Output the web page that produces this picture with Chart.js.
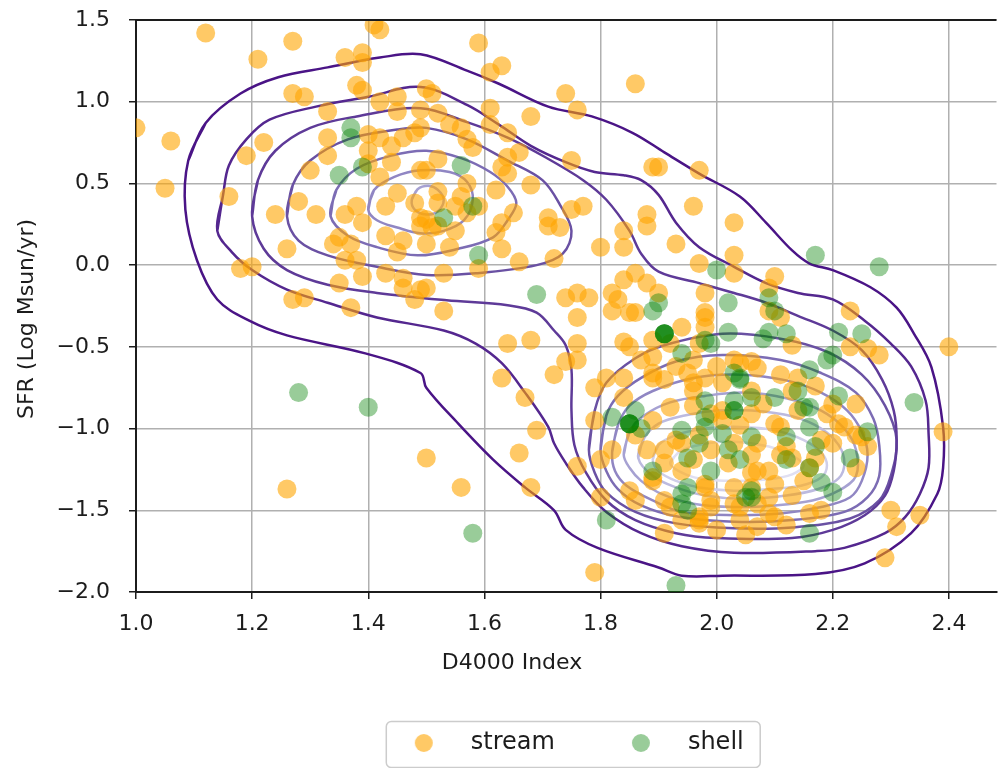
<!DOCTYPE html>
<html>
<head>
<meta charset="utf-8">
<script src="https://cdn.jsdelivr.net/npm/chart.js@4.4.1/dist/chart.umd.min.js"></script>
<style>
html,body{margin:0;padding:0;background:#fff;overflow:hidden}
canvas{display:block}
</style>
</head>
<body>
<canvas id="c" width="1006" height="768"></canvas>
<script>
// ---------------- data ----------------
const xTitle = 'D4000 Index';
const yTitle = 'SFR (Log Msun/yr)';
const xTickValues = [1.0, 1.2, 1.4, 1.6, 1.8, 2.0, 2.2, 2.4];
const yTickValues = [-2.0, -1.5, -1.0, -0.5, 0.0, 0.5, 1.0, 1.5];
const seriesNames = ['stream', 'shell'];

// [D4000, SFR] pairs
const streamPoints = [
[1.12,1.42],[1.27,1.37],[1.41,1.47],[1.42,1.44],[1.21,1.26],[1.36,1.27],[1.39,1.30],[1.39,1.24],[1.38,1.10],[1.39,1.07],
[1.27,1.05],[1.29,1.03],[1.33,0.94],[1.42,1.00],[1.45,1.03],[1.45,0.94],[1.49,0.95],[1.00,0.84],[1.06,0.76],[1.22,0.75],
[1.19,0.67],[1.33,0.67],[1.33,0.78],[1.30,0.58],[1.40,0.80],[1.42,0.78],[1.40,0.70],[1.44,0.73],[1.46,0.78],[1.48,0.81],
[1.49,0.84],[1.44,0.63],[1.40,0.62],[1.42,0.54],[1.49,0.58],[1.05,0.47],[1.16,0.42],[1.28,0.39],[1.31,0.31],[1.24,0.31],
[1.36,0.31],[1.38,0.36],[1.39,0.26],[1.35,0.17],[1.37,0.13],[1.34,0.13],[1.26,0.10],[1.43,0.36],[1.45,0.44],[1.48,0.38],
[1.49,0.29],[1.43,0.18],[1.46,0.15],[1.45,0.08],[1.18,-0.02],[1.20,-0.01],[1.36,0.03],[1.38,0.03],[1.39,-0.07],[1.35,-0.11],
[1.43,-0.05],[1.46,-0.08],[1.46,-0.14],[1.49,-0.15],[1.27,-0.21],[1.29,-0.20],[1.37,-0.26],[1.48,-0.21],[1.59,1.36],[1.63,1.22],
[1.61,1.18],[1.86,1.11],[1.74,1.05],[1.76,0.95],[1.68,0.91],[1.61,0.96],[1.51,1.05],[1.50,1.08],[1.52,0.93],[1.54,0.86],
[1.56,0.84],[1.57,0.77],[1.61,0.86],[1.64,0.81],[1.58,0.72],[1.66,0.69],[1.64,0.66],[1.63,0.60],[1.64,0.56],[1.75,0.64],
[1.89,0.60],[1.90,0.60],[1.97,0.58],[1.52,0.65],[1.50,0.58],[1.57,0.50],[1.62,0.46],[1.68,0.49],[1.52,0.45],[1.56,0.42],
[1.55,0.36],[1.65,0.32],[1.71,0.29],[1.71,0.24],[1.75,0.34],[1.77,0.36],[1.73,0.23],[1.50,0.28],[1.51,0.23],[1.55,0.21],
[1.57,0.32],[1.63,0.26],[1.62,0.20],[1.63,0.10],[1.66,0.02],[1.59,-0.02],[1.53,-0.05],[1.50,-0.14],[1.72,0.04],[1.80,0.11],
[1.84,0.21],[1.84,0.11],[1.88,0.31],[1.88,0.24],[1.93,0.13],[1.96,0.36],[2.03,0.26],[1.97,0.01],[1.98,-0.17],[1.86,-0.05],
[1.84,-0.09],[1.74,-0.20],[1.76,-0.17],[1.78,-0.20],[1.83,-0.21],[2.03,0.06],[2.03,-0.05],[2.10,-0.07],[2.09,-0.14],[2.23,-0.28],
[1.59,0.36],[1.49,0.24],[1.52,0.24],[1.50,0.13],[1.54,0.11],[1.53,-0.28],[1.82,-0.17],[1.85,-0.29],[1.86,-0.29],[1.88,-0.11],
[1.76,-0.32],[1.64,-0.48],[1.68,-0.46],[1.76,-0.48],[1.74,-0.59],[1.76,-0.58],[1.72,-0.67],[1.63,-0.69],[1.67,-0.81],[1.69,-1.01],
[1.79,-0.95],[1.81,-0.69],[1.84,-0.69],[1.85,-0.50],[1.87,-0.58],[1.89,-0.56],[1.84,-0.81],[1.52,0.38],[1.26,-1.37],[1.50,-1.18],
[1.82,-0.28],[1.89,-0.46],[1.79,-0.75],[1.89,-0.66],[1.93,-0.62],[1.96,-0.72],[1.98,-0.69],[2.00,-0.62],[2.01,-0.72],[1.86,-1.04],
[1.82,-1.13],[1.66,-1.15],[1.80,-1.19],[1.76,-1.23],[1.56,-1.36],[1.68,-1.36],[1.80,-1.42],[1.85,-1.38],[1.86,-1.44],[1.89,-1.32],
[1.91,-1.44],[1.92,-1.48],[1.91,-1.64],[1.97,-1.58],[1.79,-1.88],[1.93,-1.07],[1.99,-0.91],[1.98,-1.36],[1.99,-1.44],[2.09,-0.28],
[2.11,-0.32],[1.98,-0.32],[1.98,-0.38],[2.13,-0.49],[2.23,-0.50],[2.26,-0.51],[2.28,-0.55],[2.40,-0.50],[2.04,-0.60],[2.06,-0.59],
[2.07,-0.63],[2.14,-0.69],[2.01,-0.89],[2.24,-0.85],[2.19,-0.91],[2.21,-0.97],[2.12,-1.11],[2.24,-1.04],[2.20,-1.09],[2.26,-1.11],
[2.39,-1.02],[2.24,-1.24],[2.07,-1.26],[2.16,-1.24],[2.10,-1.34],[2.03,-1.36],[1.99,-1.48],[2.04,-1.48],[2.09,-1.42],[2.10,-1.54],
[2.07,-1.60],[2.04,-1.56],[2.16,-1.52],[2.18,-1.50],[2.30,-1.50],[2.31,-1.60],[2.35,-1.53],[2.29,-1.79],[1.97,-1.56],[1.90,-0.17],
[1.94,-0.38],[1.92,-0.48],[1.98,-0.29],[1.84,-0.47],[1.97,-0.48],[1.96,-0.58],[1.89,-0.69],[1.91,-0.70],[1.95,-0.66],[2.03,-0.58],
[1.92,-0.87],[1.96,-0.77],[2.01,-0.95],[2.06,-0.91],[2.08,-0.85],[2.13,-0.77],[2.14,-0.89],[2.20,-0.85],[1.91,-1.13],[1.94,-1.09],
[2.03,-1.09],[2.07,-1.09],[2.10,-0.97],[2.11,-0.99],[2.13,-1.18],[2.17,-1.18],[2.22,-0.99],[2.25,-1.05],[1.91,-1.21],[2.02,-1.21],
[2.06,-1.27],[2.09,-1.26],[1.89,-1.30],[1.98,-1.34],[2.06,-1.36],[2.07,-1.46],[2.03,-1.46],[1.97,-1.54],[2.09,-1.52],[1.96,-1.19],
[1.99,-1.13],[2.06,-1.16],[2.11,-1.16],[1.94,-1.26],[1.97,-1.04],[2.04,-0.98],[2.15,-1.32],[2.13,-1.41],[1.94,-1.56],[2.00,-1.62],
[2.05,-1.65],[2.12,-1.59],[1.88,-1.13],[1.89,-0.95],[1.96,-0.86],[2.06,-0.77],[2.11,-0.67],[2.17,-0.74],[2.18,-1.07]
];

const shellPoints = [
[1.37,0.84],[1.37,0.78],[1.39,0.60],[1.35,0.55],[1.56,0.61],[1.58,0.36],[1.53,0.29],[1.59,0.06],[1.69,-0.18],[1.90,-0.23],
[2.00,-0.03],[2.17,0.06],[2.28,-0.01],[2.02,-0.23],[2.09,-0.20],[1.28,-0.78],[1.40,-0.87],[1.89,-0.28],
[1.91,-0.42],[1.91,-0.42],[1.91,-0.42],[1.91,-0.42],
[1.94,-0.54],[1.98,-0.46],[1.82,-0.93],[1.86,-0.89],
[1.85,-0.97],[1.85,-0.97],[1.85,-0.97],[1.85,-0.97],
[1.87,-1.00],[1.89,-1.26],[1.94,-1.40],[1.95,-1.36],[1.95,-1.50],[1.81,-1.56],[1.58,-1.64],[1.93,-1.96],[1.94,-1.01],[1.98,-0.99],
[1.97,-1.09],[1.99,-1.26],[2.10,-0.28],[2.02,-0.41],[1.99,-0.48],[2.08,-0.45],[2.09,-0.41],[2.12,-0.42],[2.21,-0.41],[2.25,-0.42],
[2.19,-0.58],[2.20,-0.55],[2.03,-0.66],[2.04,-0.69],[2.16,-0.64],[1.98,-0.83],[1.98,-0.93],[2.10,-0.81],[2.14,-0.77],[2.15,-0.87],
[2.16,-0.87],[2.21,-0.80],[2.34,-0.84],[2.12,-1.05],[2.17,-1.11],[2.16,-0.99],[2.26,-1.02],[2.23,-1.18],[2.02,-1.13],[2.04,-1.19],
[2.12,-1.19],[2.06,-1.38],[2.06,-1.42],[2.18,-1.33],[2.20,-1.39],[2.16,-1.64],[2.04,-0.70],[2.03,-0.83],[2.06,-0.81],[2.03,-0.89],
[2.03,-0.89],[2.01,-1.03],[2.06,-1.05],[1.95,-1.18],[2.16,-1.24],[2.05,-1.42],[1.94,-1.46]
];

// KDE contour rings, [D4000, SFR]
const contour1 = [[1.09,0.64],[1.12,0.87],[1.18,1.05],[1.245,1.15],[1.33,1.21],[1.42,1.27],[1.49,1.29],[1.57,1.19],[1.625,1.11],[1.71,0.97],[1.785,0.91],[1.855,0.81],[1.91,0.69],[1.97,0.56],[2.04,0.42],[2.085,0.26],[2.13,0.09],[2.16,0.01],[2.20,-0.03],[2.265,-0.135],[2.31,-0.26],[2.34,-0.42],[2.37,-0.625],[2.39,-0.99],[2.39,-1.24],[2.38,-1.40],[2.335,-1.64],[2.255,-1.825],[2.17,-1.89],[2.01,-1.90],[1.94,-1.90],[1.90,-1.85],[1.795,-1.73],[1.74,-1.62],[1.72,-1.50],[1.67,-1.36],[1.615,-1.19],[1.555,-0.97],[1.50,-0.75],[1.49,-0.66],[1.395,-0.54],[1.26,-0.43],[1.195,-0.34],[1.14,-0.21],[1.105,0.03],[1.085,0.34]];
const contour2 = [[1.14,0.21],[1.15,0.43],[1.16,0.61],[1.19,0.77],[1.23,0.89],[1.31,0.97],[1.40,1.03],[1.49,1.09],[1.57,0.98],[1.625,0.86],[1.68,0.73],[1.74,0.63],[1.79,0.57],[1.84,0.55],[1.87,0.52],[1.90,0.43],[1.93,0.26],[1.97,0.11],[2.03,-0.01],[2.085,-0.11],[2.14,-0.17],[2.20,-0.21],[2.255,-0.34],[2.30,-0.48],[2.335,-0.62],[2.36,-0.83],[2.365,-1.03],[2.365,-1.24],[2.35,-1.40],[2.325,-1.54],[2.29,-1.64],[2.22,-1.73],[2.17,-1.75],[2.03,-1.76],[1.94,-1.72],[1.87,-1.64],[1.81,-1.51],[1.77,-1.36],[1.74,-1.21],[1.72,-1.09],[1.71,-0.99],[1.67,-0.78],[1.63,-0.60],[1.585,-0.48],[1.53,-0.40],[1.415,-0.32],[1.33,-0.23],[1.26,-0.15],[1.20,-0.03],[1.165,0.08]];
const contour3 = [[1.20,0.30],[1.21,0.52],[1.24,0.70],[1.30,0.84],[1.38,0.91],[1.49,0.96],[1.57,0.875],[1.64,0.78],[1.705,0.66],[1.77,0.52],[1.81,0.40],[1.85,0.21],[1.87,0.07],[1.90,-0.04],[1.97,-0.11],[2.03,-0.17],[2.085,-0.23],[2.14,-0.31],[2.20,-0.40],[2.25,-0.52],[2.285,-0.70],[2.305,-0.89],[2.31,-1.07],[2.305,-1.26],[2.29,-1.41],[2.255,-1.53],[2.20,-1.62],[2.13,-1.67],[2.00,-1.67],[1.93,-1.64],[1.86,-1.56],[1.81,-1.44],[1.775,-1.27],[1.755,-1.10],[1.75,-0.89],[1.75,-0.64],[1.74,-0.49],[1.72,-0.40],[1.69,-0.29],[1.64,-0.245],[1.535,-0.215],[1.415,-0.17],[1.33,-0.12],[1.26,-0.03],[1.22,0.10]];
const contour4Left = [[1.26,0.30],[1.27,0.49],[1.30,0.64],[1.365,0.77],[1.45,0.83],[1.50,0.84],[1.57,0.77],[1.64,0.64],[1.70,0.52],[1.73,0.37],[1.75,0.21],[1.735,0.07],[1.69,0.00],[1.585,-0.05],[1.50,-0.06],[1.415,-0.01],[1.33,0.06],[1.28,0.15]];
const contour5Left = [[1.335,0.30],[1.345,0.46],[1.38,0.59],[1.44,0.67],[1.50,0.70],[1.56,0.655],[1.61,0.57],[1.64,0.48],[1.655,0.38],[1.64,0.275],[1.615,0.17],[1.555,0.10],[1.485,0.06],[1.415,0.11],[1.365,0.18]];
const contour6Left = [[1.40,0.34],[1.41,0.46],[1.445,0.54],[1.49,0.58],[1.54,0.57],[1.57,0.51],[1.58,0.40],[1.565,0.275],[1.53,0.21],[1.49,0.195],[1.45,0.23],[1.415,0.275]];
const contour7Left = [[1.475,0.40],[1.485,0.465],[1.505,0.485],[1.52,0.46],[1.53,0.40],[1.52,0.33],[1.50,0.31],[1.48,0.34]];
const contour4Right = [[1.78,-1.13],[1.79,-0.89],[1.81,-0.72],[1.86,-0.57],[1.91,-0.49],[2.01,-0.42],[2.11,-0.45],[2.19,-0.53],[2.25,-0.67],[2.29,-0.86],[2.31,-1.07],[2.30,-1.29],[2.28,-1.44],[2.23,-1.55],[2.13,-1.605],[2.03,-1.61],[1.93,-1.58],[1.86,-1.51],[1.81,-1.39],[1.79,-1.27]];
const contour5Right = [[1.80,-1.13],[1.81,-0.92],[1.83,-0.80],[1.87,-0.69],[1.93,-0.59],[2.01,-0.55],[2.11,-0.58],[2.18,-0.66],[2.24,-0.78],[2.27,-0.94],[2.28,-1.10],[2.28,-1.29],[2.26,-1.42],[2.22,-1.51],[2.13,-1.56],[2.03,-1.57],[1.935,-1.54],[1.87,-1.47],[1.83,-1.37],[1.81,-1.26]];
const contour6Right = [[1.82,-1.145],[1.83,-0.98],[1.85,-0.86],[1.89,-0.77],[1.96,-0.69],[2.04,-0.67],[2.12,-0.705],[2.18,-0.78],[2.225,-0.89],[2.25,-1.02],[2.26,-1.16],[2.25,-1.32],[2.23,-1.42],[2.18,-1.48],[2.11,-1.52],[2.03,-1.53],[1.94,-1.51],[1.89,-1.44],[1.845,-1.35],[1.825,-1.26]];
const contour7Right = [[1.84,-1.16],[1.85,-1.02],[1.875,-0.92],[1.92,-0.84],[1.98,-0.80],[2.05,-0.78],[2.12,-0.815],[2.18,-0.89],[2.22,-1.00],[2.24,-1.13],[2.24,-1.29],[2.21,-1.38],[2.165,-1.44],[2.10,-1.47],[2.03,-1.48],[1.96,-1.46],[1.905,-1.40],[1.87,-1.32],[1.85,-1.24]];
const contour8Right = [[1.865,-1.18],[1.875,-1.06],[1.90,-0.97],[1.945,-0.92],[2.00,-0.89],[2.06,-0.89],[2.13,-0.925],[2.18,-1.00],[2.21,-1.10],[2.22,-1.21],[2.21,-1.305],[2.175,-1.37],[2.12,-1.41],[2.045,-1.43],[1.98,-1.41],[1.93,-1.36],[1.89,-1.29]];
const contour9Right = [[1.89,-1.19],[1.90,-1.10],[1.93,-1.04],[1.98,-1.00],[2.04,-0.99],[2.10,-1.01],[2.15,-1.07],[2.18,-1.145],[2.19,-1.225],[2.18,-1.30],[2.145,-1.35],[2.09,-1.37],[2.03,-1.38],[1.97,-1.36],[1.93,-1.32],[1.90,-1.26]];
const contour10Right = [[1.92,-1.21],[1.935,-1.145],[1.97,-1.10],[2.03,-1.08],[2.09,-1.11],[2.13,-1.165],[2.15,-1.225],[2.13,-1.28],[2.09,-1.31],[2.03,-1.32],[1.97,-1.305],[1.935,-1.26]];

// ---------------- chart construction ----------------
const contourLevels = [
  [contour1], [contour2], [contour3],
  [contour4Left, contour4Right], [contour5Left, contour5Right],
  [contour6Left, contour6Right], [contour7Left, contour7Right],
  [contour8Right], [contour9Right], [contour10Right]
];
const levelColors = ['rgb(74,20,134)','rgb(84,39,143)','rgb(94,58,152)','rgb(106,81,163)','rgb(124,108,180)',
                     'rgb(144,134,195)','rgb(166,161,210)','rgb(188,186,223)','rgb(207,206,233)','rgb(224,223,242)'];
const seriesColors = ['rgba(255,165,0,0.6)', 'rgba(0,128,0,0.4)'];
const FONT = "'DejaVu Sans', sans-serif";
const TEXT = '#1c1c1c';

Chart.defaults.font.family = FONT;
Chart.defaults.color = TEXT;

const toXY = arr => arr.map(p => ({x: p[0], y: p[1]}));

const datasets = [
  { label: seriesNames[0], data: toXY(streamPoints), backgroundColor: seriesColors[0],
    pointRadius: 9.5, pointBorderWidth: 0, pointHoverRadius: 9.5, order: 1 },
  { label: seriesNames[1], data: toXY(shellPoints), backgroundColor: seriesColors[1],
    pointRadius: 9.5, pointBorderWidth: 0, pointHoverRadius: 9.5, order: 0 }
];
contourLevels.forEach((rings, li) => {
  rings.forEach(ring => {
    const closed = ring.concat([ring[0], ring[1]]);
    datasets.push({
      label: 'kde', data: toXY(closed), showLine: true, pointRadius: 0, pointHoverRadius: 0,
      borderColor: levelColors[li], backgroundColor: levelColors[li], borderWidth: 2.5,
      tension: 0.35, fill: false, order: 2
    });
  });
});

function markerImage(color) {
  const cv = document.createElement('canvas');
  cv.width = 20; cv.height = 20;
  const g = cv.getContext('2d');
  g.fillStyle = color;
  g.beginPath(); g.arc(10, 10, 9, 0, Math.PI * 2); g.fill();
  return cv;
}
const markerImages = seriesColors.map(markerImage);

const fmt = v => (Math.abs(v) < 1e-9 ? 0 : v).toFixed(1).replace('-', '\u2212');

const deco = {
  id: 'deco',
  afterDraw(chart) {
    const ctx = chart.ctx, a = chart.chartArea;
    ctx.save();
    ctx.strokeStyle = '#1c1c1c'; ctx.lineWidth = 2;
    ctx.beginPath(); ctx.moveTo(a.left - 1, a.top); ctx.lineTo(a.right, a.top); ctx.stroke();
    ctx.fillStyle = TEXT;
    ctx.font = '22px ' + FONT;
    ctx.textAlign = 'center'; ctx.textBaseline = 'alphabetic';
    ctx.fillText(xTitle, a.left + 376, a.bottom + 77);
    ctx.translate(a.left - 103, a.top + 299);
    ctx.rotate(-Math.PI / 2);
    ctx.fillText(yTitle, 0, 0);
    ctx.restore();
    const lg = chart.legend;
    if (lg && lg.legendHitBoxes && lg.legendHitBoxes.length === 2) {
      const hb = lg.legendHitBoxes;
      const cy = lg.top + lg.options.labels.padding + 12;
      const l = hb[0].left - 3, r = hb[1].left + hb[1].width + 16;
      ctx.save();
      ctx.strokeStyle = '#cccccc'; ctx.lineWidth = 1.5;
      ctx.beginPath();
      ctx.roundRect(l + 0.5, cy - 22 + 0.5, r - l, 46, 5);
      ctx.stroke();
      ctx.restore();
    }
  }
};

new Chart(document.getElementById('c'), {
  type: 'scatter',
  data: { datasets },
  plugins: [deco],
  options: {
    responsive: false,
    devicePixelRatio: 1,
    animation: false,
    events: [],
    layout: { padding: { left: 0, right: 0, top: 20, bottom: 3 } },
    plugins: {
      tooltip: { enabled: false },
      legend: {
        position: 'bottom',
        fullSize: false,
        align: 'center',
        labels: {
          usePointStyle: true,
          pointStyleWidth: 70,
          boxHeight: 13,
          padding: 51,
          color: TEXT,
          font: { size: 24, family: FONT },
          sort: (a, b) => a.datasetIndex - b.datasetIndex,
          generateLabels(chart) {
            const items = Chart.defaults.plugins.legend.labels.generateLabels(chart)
              .filter(it => it.datasetIndex < 2);
            items.forEach(it => { it.pointStyle = markerImages[it.datasetIndex]; });
            return items;
          }
        }
      }
    },
    scales: {
      x: {
        type: 'linear', position: 'bottom',
        min: 1.0, max: 2.482,
        afterBuildTicks: s => { s.ticks = xTickValues.map(v => ({ value: v })); },
        afterFit: s => { s.height = 88; s.paddingLeft = 0; s.paddingRight = 0; },
        ticks: { includeBounds: false, padding: 12, color: TEXT, font: { size: 22, family: FONT },
                 maxRotation: 0, autoSkip: false, callback: v => fmt(v) },
        grid: { color: '#b0b0b0', lineWidth: 1.5, tickLength: 7, tickColor: '#1c1c1c', tickWidth: 1.5 },
        border: { display: true, color: '#1c1c1c', width: 2 }
      },
      y: {
        type: 'linear', position: 'left',
        min: -2.0, max: 1.5,
        afterBuildTicks: s => { s.ticks = yTickValues.map(v => ({ value: v })); },
        afterFit: s => { s.width = 136; s.paddingTop = 0; s.paddingBottom = 0; },
        ticks: { includeBounds: false, padding: 19, color: TEXT, font: { size: 22, family: FONT },
                 autoSkip: false, callback: v => fmt(v) },
        grid: { color: '#b0b0b0', lineWidth: 1.5, tickLength: 7, tickColor: '#1c1c1c', tickWidth: 1.5 },
        border: { display: true, color: '#1c1c1c', width: 2 }
      }
    }
  }
});
</script>
</body>
</html>
